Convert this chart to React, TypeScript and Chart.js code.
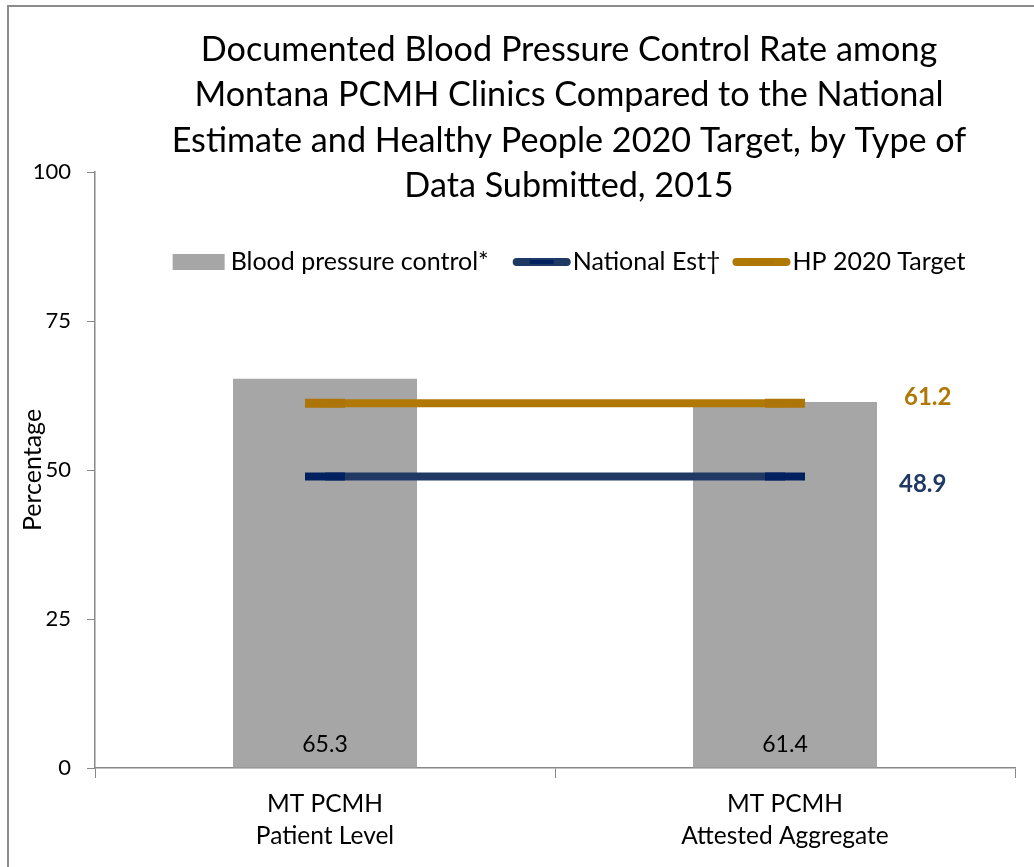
import React, { useEffect, useRef } from 'react';
import { Chart, registerables } from 'chart.js';

Chart.register(...registerables);

// ---- data ----
const categories: string[][] = [
  ['MT PCMH', 'Patient Level'],
  ['MT PCMH', 'Attested Aggregate'],
];
const bpControl: number[] = [65.3, 61.4];
const nationalEst: number[] = [48.9, 48.9];
const hpTarget: number[] = [61.2, 61.2];
const yTickValues: number[] = [0, 25, 50, 75, 100];
const seriesNames: string[] = ['Blood pressure control*', 'National Est\u2020', 'HP 2020 Target'];
const titleLines: string[] = [
  'Documented Blood Pressure Control Rate among',
  'Montana PCMH Clinics Compared to the National',
  'Estimate and Healthy People 2020 Target, by Type of',
  'Data Submitted, 2015',
];
const yAxisTitle = 'Percentage';

// ---- styles ----
const FONT = 'Lato, "Open Sans", sans-serif';
const BAR_COLOR = '#A6A6A6';
const NAVY = '#1F3864';
const NAVY_MARK = '#002060';
const GOLD = '#B07805';
const GOLD_MARK = '#AD7507';
const AXIS = '#888888';

const decorPlugin = {
  id: 'decor',
  beforeDraw(chart: any) {
    const ctx = chart.ctx;
    ctx.save();
    ctx.strokeStyle = '#8C8C8C';
    ctx.lineWidth = 2;
    ctx.beginPath();
    ctx.moveTo(8, 900);
    ctx.lineTo(8, 6);
    ctx.lineTo(1100, 6);
    ctx.stroke();
    ctx.restore();
  },
  afterDraw(chart: any) {
    const ctx = chart.ctx;
    const area = chart.chartArea;
    const cx = 569;
    ctx.save();
    // title
    ctx.fillStyle = '#000';
    ctx.font = `34.2px ${FONT}`;
    ctx.textAlign = 'center';
    ctx.textBaseline = 'middle';
    titleLines.forEach((t, i) => ctx.fillText(t, cx, 50 + i * 45.3));

    // legend
    ctx.font = `25px ${FONT}`;
    const ly = 262;
    const w0 = ctx.measureText(seriesNames[0]).width;
    const w1 = ctx.measureText(seriesNames[1]).width;
    const w2 = ctx.measureText(seriesNames[2]).width;
    const boxW = 52, gapTxt = 6, gapItem = 24, lineW = 58;
    const total = boxW + gapTxt + w0 + gapItem + lineW + 2 + w1 + 12 + lineW + 2 + w2;
    let x = cx - total / 2;
    ctx.textAlign = 'left';
    ctx.fillStyle = BAR_COLOR;
    ctx.fillRect(x, ly - 8, boxW, 16);
    x += boxW + gapTxt;
    ctx.fillStyle = '#000';
    ctx.fillText(seriesNames[0], x, ly);
    x += w0 + gapItem;
    const drawLineKey = (col: string, mcol: string) => {
      ctx.strokeStyle = col;
      ctx.lineWidth = 8;
      ctx.lineCap = 'round';
      ctx.beginPath();
      ctx.moveTo(x + 4, ly);
      ctx.lineTo(x + lineW - 4, ly);
      ctx.stroke();
      ctx.lineCap = 'butt';
      ctx.strokeStyle = mcol;
      ctx.lineWidth = 4;
      ctx.beginPath();
      ctx.moveTo(x + lineW / 2 - 12, ly);
      ctx.lineTo(x + lineW / 2 + 12, ly);
      ctx.stroke();
    };
    drawLineKey(NAVY, NAVY_MARK);
    x += lineW + 2;
    ctx.fillStyle = '#000';
    ctx.fillText(seriesNames[1], x, ly);
    x += w1 + 12;
    drawLineKey(GOLD, GOLD_MARK);
    x += lineW + 2;
    ctx.fillStyle = '#000';
    ctx.fillText(seriesNames[2], x, ly);

    // bar labels
    const barMeta = chart.getDatasetMeta(0);
    ctx.textAlign = 'center';
    ctx.font = `23px ${FONT}`;
    ctx.fillStyle = '#000';
    barMeta.data.forEach((el: any, i: number) => {
      ctx.fillText(String(bpControl[i].toFixed(1)), el.x, area.bottom - 23);
    });

    // line end labels
    ctx.textAlign = 'left';
    ctx.font = `bold 24px ${FONT}`;
    const goldMeta = chart.getDatasetMeta(2);
    const gp = goldMeta.data[goldMeta.data.length - 1];
    ctx.fillStyle = GOLD;
    ctx.fillText(hpTarget[hpTarget.length - 1].toFixed(1), gp.x + 119, gp.y - 6);
    const navyMeta = chart.getDatasetMeta(1);
    const np = navyMeta.data[navyMeta.data.length - 1];
    ctx.fillStyle = NAVY;
    ctx.fillText(nationalEst[nationalEst.length - 1].toFixed(1), np.x + 114, np.y + 8);
    ctx.restore();
  },
};

export default function App() {
  const ref = useRef<HTMLCanvasElement | null>(null);
  useEffect(() => {
    if (!ref.current) return;
    const chart = new Chart(ref.current, {
      type: 'bar',
      data: {
        labels: categories,
        datasets: [
          {
            type: 'bar',
            label: seriesNames[0],
            data: bpControl,
            backgroundColor: BAR_COLOR,
            barPercentage: 0.4,
            categoryPercentage: 1,
            order: 3,
          } as any,
          {
            type: 'line',
            label: seriesNames[1],
            data: nationalEst,
            borderColor: NAVY,
            borderWidth: 8,
            borderCapStyle: 'butt',
            pointStyle: 'line',
            pointRadius: 20,
            pointHoverRadius: 20,
            pointBorderWidth: 8,
            pointBorderColor: NAVY_MARK,
            pointBackgroundColor: NAVY_MARK,
            order: 1,
          },
          {
            type: 'line',
            label: seriesNames[2],
            data: hpTarget,
            borderColor: GOLD,
            borderWidth: 8,
            borderCapStyle: 'butt',
            pointStyle: 'line',
            pointRadius: 20,
            pointHoverRadius: 20,
            pointBorderWidth: 9,
            pointBorderColor: GOLD_MARK,
            pointBackgroundColor: GOLD_MARK,
            order: 2,
          },
        ],
      },
      options: {
        responsive: false,
        animation: false,
        events: [],
        // the line points' overflow (29px) sets the minimum right padding, so the
        // canvas is 10px wider than the frame to keep the plot's right edge at 1015
        layout: { padding: { top: 172, right: 19, left: 0, bottom: 0 } },
        plugins: { legend: { display: false }, title: { display: false }, tooltip: { enabled: false } },
        scales: {
          x: {
            offset: true,
            grid: { display: true, drawOnChartArea: false, drawTicks: true, tickLength: 10, color: AXIS, offset: true },
            border: { display: true, color: AXIS, width: 1.5 },
            ticks: { color: '#000', font: { family: FONT, size: 24.5, lineHeight: 1.27 }, padding: 11, maxRotation: 0 },
            afterFit: (s: any) => { s.height = 99; s.paddingLeft = 0; s.paddingRight = 0; },
          },
          y: {
            min: 0,
            max: 100,
            afterBuildTicks: (s: any) => { s.ticks = yTickValues.map((v) => ({ value: v })); },
            grid: { display: true, drawOnChartArea: false, drawTicks: true, tickLength: 8, color: AXIS },
            border: { display: true, color: AXIS, width: 1.5 },
            ticks: { color: '#000', font: { family: FONT, size: 22 }, padding: 16 },
            title: { display: true, text: yAxisTitle, color: '#000', font: { family: FONT, size: 25 }, padding: { top: 18, bottom: 0 } },
            afterFit: (s: any) => { s.width = 95; s.paddingTop = 0; s.paddingBottom = 0; },
          },
        },
      } as any,
      plugins: [decorPlugin],
    });
    return () => chart.destroy();
  }, []);
  return (
    <div style={{ position: 'fixed', left: 0, top: 0, width: 1034, height: 867, overflow: 'hidden', background: '#fff' }}>
      <canvas ref={ref} width={1044} height={867} style={{ display: 'block' }} />
    </div>
  );
}
